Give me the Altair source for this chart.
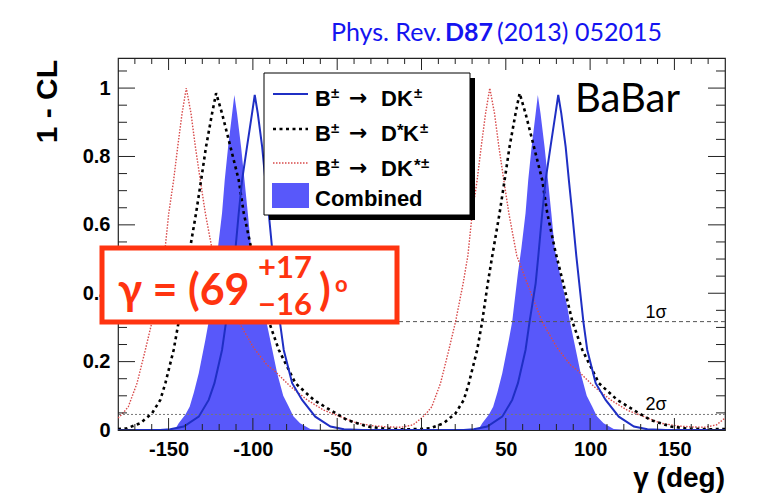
import altair as alt
import pandas as pd

# ---------------- data ----------------
dk_gamma = [-180, -155, -149, -141, -132.1, -126.2, -122.8, -118.3, -115.9, -112.3, -110.7, -108.4, -106.4,
            -103.5, -100.5, -98.9, -97.1, -94.5, -92.6, -90.6, -88.2, -84, -81.7, -76.7, -70.8, -63, -54, -46, -35,
            0, 25, 31, 39, 47.9, 53.8, 57.2, 61.7, 64.1, 67.7, 69.3, 71.6, 73.6, 76.5, 79.5, 81.1, 82.9, 85.5,
            87.4, 89.4, 91.8, 96, 98.3, 103.3, 109.2, 117, 126, 134, 145, 180]
dk_cl = [0, 0, 0.002, 0.01, 0.039, 0.088, 0.137, 0.234, 0.317, 0.429, 0.51, 0.634, 0.731, 0.828, 0.926, 0.98,
         0.926, 0.828, 0.731, 0.634, 0.51, 0.317, 0.234, 0.137, 0.088, 0.039, 0.01, 0.002, 0,
         0, 0, 0.002, 0.01, 0.039, 0.088, 0.137, 0.234, 0.317, 0.429, 0.51, 0.634, 0.731, 0.828, 0.926, 0.98,
         0.926, 0.828, 0.731, 0.634, 0.51, 0.317, 0.234, 0.137, 0.088, 0.039, 0.01, 0.002, 0, 0]

dsk_gamma = [-180, -174.7, -166.8, -159.8, -154.9, -151.9, -147, -144, -140.7, -138, -133.7, -130.7, -127.8,
             -124.2, -121.8, -118.3, -113.3, -108.4, -105.4, -100.5, -95.5, -90.5, -84.6, -74.8, -63.9, -54, -44,
             -32, -22, -10,
             0, 5.3, 13.2, 20.2, 25.1, 28.1, 33, 36, 39.3, 42, 46.3, 49.3, 52.2, 55.8, 58.2, 61.7, 66.7, 71.6,
             74.6, 79.5, 84.5, 89.5, 95.4, 105.2, 116.1, 126, 136, 148, 158, 170, 180]
dsk_cl = [0.003, 0.005, 0.02, 0.049, 0.088, 0.137, 0.234, 0.317, 0.429, 0.51, 0.634, 0.731, 0.828, 0.926, 0.985,
          0.926, 0.828, 0.731, 0.634, 0.52, 0.42, 0.317, 0.234, 0.137, 0.088, 0.058, 0.029, 0.01, 0.004, 0.002,
          0.003, 0.005, 0.02, 0.049, 0.088, 0.137, 0.234, 0.317, 0.429, 0.51, 0.634, 0.731, 0.828, 0.926, 0.985,
          0.926, 0.828, 0.731, 0.634, 0.52, 0.42, 0.317, 0.234, 0.137, 0.088, 0.058, 0.029, 0.01, 0.004, 0.002,
          0.003]

dks_gamma = [-180, -177.6, -173.9, -168.7, -163.8, -159.8, -155.3, -152.5, -149.9, -147, -144.6, -142, -139.5,
             -136.7, -134.1, -131.2, -128.2, -123.5, -117.3, -108.5, -99.5, -91.6, -87.6, -77.7, -67.8, -58, -48,
             -38.2, -28.3, -20, -12, -5,
             0, 2.4, 6.1, 11.3, 16.2, 20.2, 24.7, 27.5, 30.1, 33, 35.4, 38, 40.5, 43.3, 45.9, 48.8, 51.8, 56.5,
             62.7, 71.5, 80.5, 88.4, 92.4, 102.3, 112.2, 122, 132, 141.8, 151.7, 160, 168, 175, 180]
dks_cl = [0.035, 0.046, 0.068, 0.137, 0.234, 0.317, 0.429, 0.51, 0.634, 0.731, 0.828, 0.926, 1.0, 0.926, 0.828,
          0.731, 0.634, 0.51, 0.429, 0.317, 0.24, 0.19, 0.175, 0.127, 0.088, 0.058, 0.039, 0.02, 0.012, 0.009,
          0.008, 0.015,
          0.035, 0.046, 0.068, 0.137, 0.234, 0.317, 0.429, 0.51, 0.634, 0.731, 0.828, 0.926, 1.0, 0.926, 0.828,
          0.731, 0.634, 0.51, 0.429, 0.317, 0.24, 0.19, 0.175, 0.127, 0.088, 0.058, 0.039, 0.02, 0.012, 0.009,
          0.008, 0.015, 0.035]

comb_gamma = [-180, -152, -146, -144, -140, -137.5, -135, -132.1, -128.2, -126.2, -125.2, -122.8, -120.8, -118.3,
              -116.7, -114.7, -112.3, -111, -109.4, -107, -105, -103, -101, -98, -93.5, -92, -89.7, -85.6, -82,
              -78.7, -76, -72, -66, -60,
              0, 28, 34, 36, 40, 42.5, 45, 47.9, 51.8, 53.8, 54.8, 57.2, 59.2, 61.7, 63.3, 65.3, 67.7, 69, 70.6,
              73, 75, 77, 79, 82, 86.5, 88, 90.3, 94.4, 98, 101.3, 104, 108, 114, 120, 180]
comb_cl = [0, 0, 0.003, 0.02, 0.045, 0.068, 0.11, 0.166, 0.263, 0.317, 0.36, 0.459, 0.53, 0.634, 0.731, 0.828,
           0.926, 0.98, 0.926, 0.828, 0.731, 0.634, 0.53, 0.459, 0.36, 0.317, 0.263, 0.166, 0.1, 0.068, 0.04,
           0.02, 0.003, 0,
           0, 0, 0.003, 0.02, 0.045, 0.068, 0.11, 0.166, 0.263, 0.317, 0.36, 0.459, 0.53, 0.634, 0.731, 0.828,
           0.926, 0.98, 0.926, 0.828, 0.731, 0.634, 0.53, 0.459, 0.36, 0.317, 0.263, 0.166, 0.1, 0.068, 0.04,
           0.02, 0.003, 0, 0]

sigma_levels = [0.317, 0.0455]
sigma_labels = ["1σ", "2σ"]

x_major = [-150, -100, -50, 0, 50, 100, 150]
x_minor = [-170, -160, -140, -130, -120, -110, -90, -80, -70, -60, -40, -30, -20, -10,
           10, 20, 30, 40, 60, 70, 80, 90, 110, 120, 130, 140, 160, 170]
y_major = [0, 0.2, 0.4, 0.6, 0.8, 1.0]
y_minor = [0.05, 0.1, 0.15, 0.25, 0.3, 0.35, 0.45, 0.5, 0.55, 0.65, 0.7, 0.75, 0.85, 0.9, 0.95, 1.05]

title_parts = ["Phys. Rev.", "D87", "(2013)", "052015"]
legend_labels = ["B", "±", "→", "DK", "D", "*", "K", "Combined"]
x_title = "γ (deg)"
y_title = "1 - CL"
experiment = "BaBar"
result_parts = ["γ = (69", "+17", "−16", ")", "o"]

# ---------------- layout / style ----------------
W, H = 607, 372
xs = alt.Scale(domain=[-180, 180], nice=False, zero=False)
ys = alt.Scale(domain=[0, 1.088], nice=False, zero=False)
HELV = "Liberation Sans"
CAL = "Lato"
FILL = "#5858fa"
BLUE = "#1f2fc4"
RED = "#d84a4a"
BOXRED = "#ff3410"
one = alt.Data(values=[{"k": 0}])

xaxis = alt.Axis(values=x_major, ticks=False, domain=False, grid=False, labelFont=HELV, labelFontWeight="bold",
                 labelFontSize=20, labelPadding=9, labelColor="black", title="",
                 labelExpr="'' + datum.value")
yaxis = alt.Axis(values=y_major, ticks=False, domain=False, grid=False, labelFont=HELV, labelFontWeight="bold",
                 labelFontSize=20, labelPadding=8, labelColor="black", title="",
                 labelExpr="'' + datum.value")


def curve_df(g, v):
    assert len(g) == len(v)
    return pd.DataFrame({"gamma": g, "cl": v})


def XF(field):
    return alt.X(field, scale=xs, axis=xaxis)


def YF(field):
    return alt.Y(field, scale=ys, axis=yaxis)


def T(text, x, y, size, color="black", bold=True, font=HELV, align="left", baseline="alphabetic", angle=0):
    kw = dict(text=text, fontSize=size, color=color, font=font, align=align, baseline=baseline,
              fontWeight="bold" if bold else "normal")
    if angle:
        kw["angle"] = angle
    return alt.Chart(one).mark_text(**kw).encode(x=alt.value(x), y=alt.value(y))


def R(x1, x2, y1, y2, fill, stroke=None, sw=0):
    kw = dict(fill=fill)
    if stroke:
        kw.update(stroke=stroke, strokeWidth=sw)
    return alt.Chart(one).mark_rect(**kw).encode(
        x=alt.value(x1), x2=alt.value(x2), y=alt.value(y1), y2=alt.value(y2))


layers = []

# combined (filled)
layers.append(alt.Chart(curve_df(comb_gamma, comb_cl)).mark_area(color=FILL, opacity=1, clip=True).encode(
    x=XF("gamma:Q"), y=YF("cl:Q")))

# 1 sigma / 2 sigma lines
sig1 = pd.DataFrame({"level": [sigma_levels[0]], "label": [sigma_labels[0]]})
sig2 = pd.DataFrame({"level": [sigma_levels[1]], "label": [sigma_labels[1]]})
layers.append(alt.Chart(sig1).mark_rule(color="#555555", strokeWidth=1, strokeDash=[4, 3]).encode(
    y=YF("level:Q")))
layers.append(alt.Chart(sig2).mark_rule(color="#777777", strokeWidth=1, strokeDash=[2, 2]).encode(
    y=YF("level:Q")))
for d in (sig1, sig2):
    layers.append(alt.Chart(d).mark_text(font=HELV, fontSize=18, color="black", baseline="middle",
                                         align="center", dy=-9).encode(
        x=alt.value(538), y=YF("level:Q"), text="label:N"))

# curves
layers.append(alt.Chart(curve_df(dks_gamma, dks_cl)).mark_line(color=RED, strokeWidth=1.4, strokeDash=[1.5, 1.5],
                                                                clip=True).encode(
    x=XF("gamma:Q"), y=YF("cl:Q")))
layers.append(alt.Chart(curve_df(dsk_gamma, dsk_cl)).mark_line(color="black", strokeWidth=2.6, strokeDash=[3, 3.5],
                                                                clip=True).encode(
    x=XF("gamma:Q"), y=YF("cl:Q")))
layers.append(alt.Chart(curve_df(dk_gamma, dk_cl)).mark_line(color=BLUE, strokeWidth=2, clip=True).encode(
    x=XF("gamma:Q"), y=YF("cl:Q")))

# inward ticks
xmaj = pd.DataFrame({"t": x_major})
xmin = pd.DataFrame({"t": x_minor})
ymaj = pd.DataFrame({"t": y_major})
ymin = pd.DataFrame({"t": y_minor})
TK = "#222222"
for d, ln in ((xmaj, 12), (xmin, 6)):
    layers.append(alt.Chart(d).mark_rule(color=TK, strokeWidth=1).encode(
        x=XF("t:Q"), y=alt.value(H), y2=alt.value(H - ln)))
    layers.append(alt.Chart(d).mark_rule(color=TK, strokeWidth=1).encode(
        x=XF("t:Q"), y=alt.value(0), y2=alt.value(ln)))
for d, ln in ((ymaj, 17), (ymin, 9)):
    layers.append(alt.Chart(d).mark_rule(color=TK, strokeWidth=1).encode(
        y=YF("t:Q"), x=alt.value(0), x2=alt.value(ln)))
    layers.append(alt.Chart(d).mark_rule(color=TK, strokeWidth=1).encode(
        y=YF("t:Q"), x=alt.value(W), x2=alt.value(W - ln)))

# legend
layers.append(R(151, 357, 20, 162, "black"))
layers.append(R(146, 352, 15, 157, "white", "black", 1))
layers.append(alt.Chart(one).mark_rule(color=BLUE, strokeWidth=2).encode(
    x=alt.value(155), x2=alt.value(190), y=alt.value(36)))
layers.append(alt.Chart(one).mark_rule(color="black", strokeWidth=2.6, strokeDash=[3, 3.5]).encode(
    x=alt.value(155), x2=alt.value(190), y=alt.value(71)))
layers.append(alt.Chart(one).mark_rule(color=RED, strokeWidth=1.4, strokeDash=[1.5, 1.5]).encode(
    x=alt.value(155), x2=alt.value(190), y=alt.value(105)))
layers.append(R(154, 191, 125, 150, FILL))

LS = 22
SS = 15
B_, PM, AR, DK, D_, ST, K_, COMB = legend_labels
for base in (48, 83, 118):
    layers.append(T(B_, 197, base, LS))
    layers.append(T(PM, 213, base - 8, SS))
    layers.append(T(AR, 231, base - 1, LS, font="DejaVu Sans"))
# row 1: DK±
layers.append(T(DK, 263, 48, LS))
layers.append(T(PM, 296, 40, SS))
# row 2: D*K±
layers.append(T(D_, 263, 83, LS))
layers.append(T(ST, 279, 78, 17))
layers.append(T(K_, 285, 83, LS))
layers.append(T(PM, 302, 75, SS))
# row 3: DK*±
layers.append(T(DK, 263, 118, LS))
layers.append(T(ST, 296, 113, 17))
layers.append(T(PM, 303, 110, SS))
# row 4
layers.append(T(COMB, 197, 148, LS))

# experiment label
layers.append(T(experiment, 457, 54, 40, bold=False, font=CAL))

# axis titles
layers.append(T(y_title, -70, 2, 30, align="right", baseline="middle", angle=270))
layers.append(T(x_title, W, 429, 28, align="right"))

# title
TB = "#1414f0"
TS = 25
layers.append(T(title_parts[0], 213, -17, TS, color=TB, bold=False, font=CAL))
layers.append(T(title_parts[1], 327, -17, TS, color=TB, bold=True, font=CAL))
layers.append(T(title_parts[2], 379, -17, TS, color=TB, bold=False, font=CAL))
layers.append(T(title_parts[3], 457, -17, TS, color=TB, bold=False, font=CAL))

# result box
layers.append(R(-16, 279, 190, 264, "white", BOXRED, 5))
layers.append(T(result_parts[0], 0, 247, 43, color=BOXRED, font=CAL))
layers.append(T(result_parts[1], 167, 220, 31, color=BOXRED, font=CAL, align="center"))
layers.append(T(result_parts[2], 167, 257, 31, color=BOXRED, font=CAL, align="center"))
layers.append(T(result_parts[3], 201, 247, 43, color=BOXRED, font=CAL))
layers.append(T(result_parts[4], 217, 234, 22, color=BOXRED, font=CAL))

chart = alt.layer(*layers).properties(
    width=W, height=H,
    padding={"left": 118, "top": 58, "right": 33, "bottom": 63},
    autosize=alt.AutoSizeParams(type="none"),
    background="white",
).configure_view(stroke="#222222", strokeWidth=1.2)

chart.save("out.html", embed_options={"renderer": "svg", "actions": False})
